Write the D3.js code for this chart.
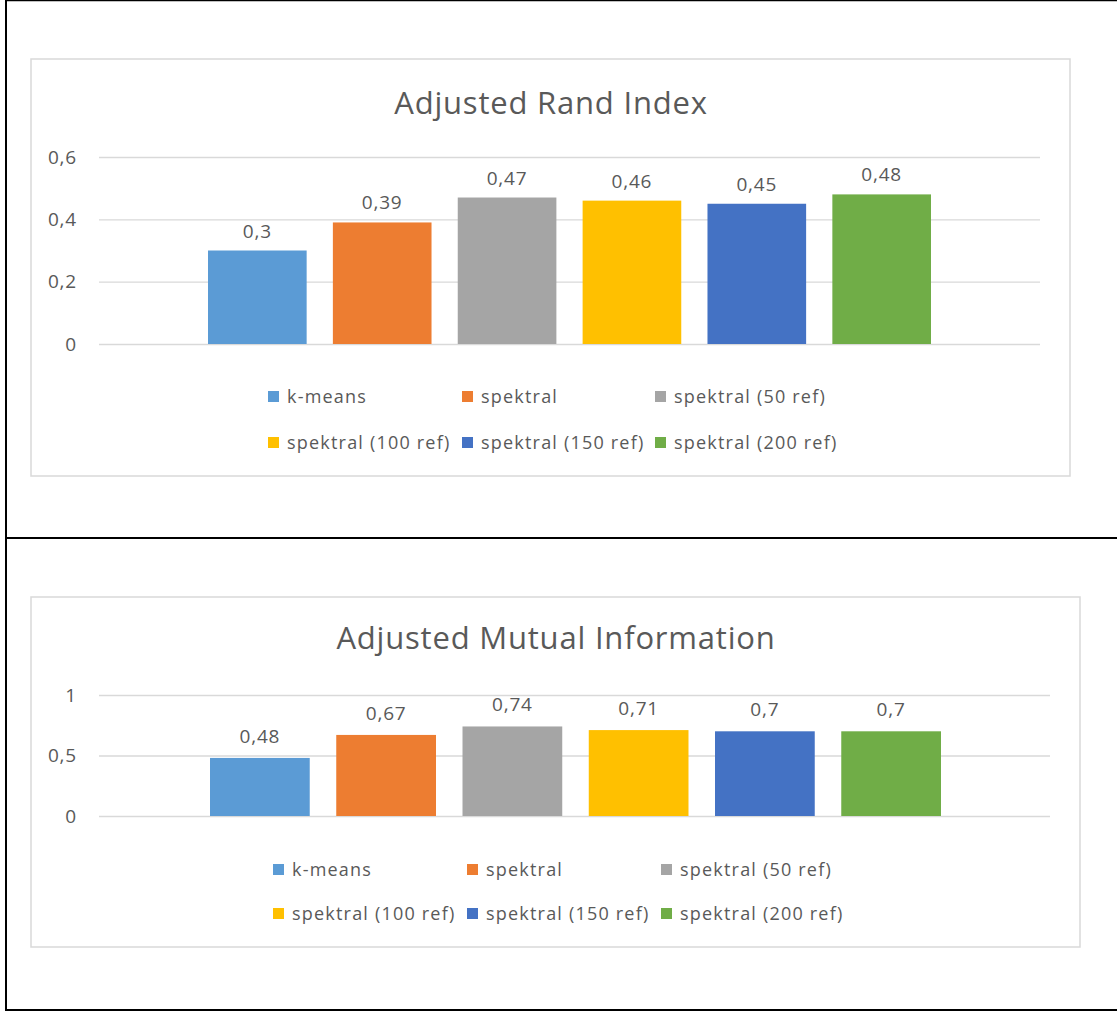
<!DOCTYPE html>
<html>
<head>
<meta charset="utf-8">
<script src="https://cdn.jsdelivr.net/npm/d3@7"></script>
<style>
  body { margin: 0; background: white; }
  svg text { font-family: "Open Sans", Lato, sans-serif; fill: #595959; }
</style>
</head>
<body>
<svg id="svg" width="1117" height="1012"></svg>
<script>
// series (one bar each, single category)
var series = ["k-means", "spektral", "spektral (50 ref)", "spektral (100 ref)", "spektral (150 ref)", "spektral (200 ref)"];
var colors = ["#5B9BD5", "#ED7D31", "#A5A5A5", "#FFC000", "#4472C4", "#70AD47"];

var randValues = [0.3, 0.39, 0.47, 0.46, 0.45, 0.48];
var randTicks = [0, 0.2, 0.4, 0.6];

var mutualValues = [0.48, 0.67, 0.74, 0.71, 0.7, 0.7];
var mutualTicks = [0, 0.5, 1];

var text_color = "#595959";
var grid_color = "#d9d9d9";

// comma as decimal mark
var locale = d3.formatLocale({decimal: ",", thousands: ".", grouping: [3], currency: ["", ""]});
var fmt = locale.format(".2~f");

const svg = d3.select('#svg');

// outer black lines of the page
svg.append("line").attr("x1", 6).attr("x2", 6).attr("y1", 0).attr("y2", 1011).style("stroke", "black").style("stroke-width", 2);
svg.append("line").attr("x1", 5).attr("x2", 1117).attr("y1", 0.5).attr("y2", 0.5).style("stroke", "black").style("stroke-width", 1.5);
svg.append("line").attr("x1", 5).attr("x2", 1117).attr("y1", 538).attr("y2", 538).style("stroke", "black").style("stroke-width", 2);
svg.append("line").attr("x1", 5).attr("x2", 1117).attr("y1", 1010).attr("y2", 1010).style("stroke", "black").style("stroke-width", 2);

function drawChart(opt) {
  var g = svg.append("g");

  // chart frame
  g.append("rect")
    .attr("x", opt.frame[0]).attr("y", opt.frame[1])
    .attr("width", opt.frame[2]).attr("height", opt.frame[3])
    .style("fill", "white").style("stroke", grid_color).style("stroke-width", 1.5);

  g.append("text")
    .attr("x", opt.titleX).attr("y", opt.titleY)
    .attr("text-anchor", "middle")
    .style("font-size", "31px")
    .style("letter-spacing", "0.8px")
    .text(opt.title);

  var y = d3.scaleLinear().domain(opt.domain).range(opt.yRange);
  var x = d3.scaleBand().domain(series).range(opt.barRange).paddingInner(0.21).paddingOuter(0);

  // gridlines + tick labels via axis
  var axis = d3.axisLeft(y).tickValues(opt.ticks).tickSize(-(opt.plotX[1] - opt.plotX[0])).tickPadding(22).tickFormat(fmt);
  var ax = g.append("g").attr("transform", "translate(" + opt.plotX[0] + ",0)").call(axis);
  ax.select(".domain").remove();
  ax.selectAll(".tick line").style("stroke", grid_color).style("stroke-width", 1.3);
  ax.selectAll(".tick text").style("font-size", "19px").style("letter-spacing", "0.8px")
    .style("fill", text_color).style("font-family", null);

  // bars
  g.selectAll(".bar")
    .data(opt.values)
    .enter().append("rect")
    .attr("x", (d, i) => x(series[i]))
    .attr("width", x.bandwidth())
    .attr("y", d => y(d))
    .attr("height", d => y(0) - y(d))
    .style("fill", (d, i) => colors[i]);

  g.selectAll(".vlabel")
    .data(opt.values)
    .enter().append("text")
    .attr("x", (d, i) => x(series[i]) + x.bandwidth() / 2)
    .attr("y", d => y(d) - opt.labelGap)
    .attr("text-anchor", "middle")
    .style("font-size", "19px")
    .style("letter-spacing", "0.8px")
    .text(d => fmt(d));

  // legend, 3 per row
  var leg = g.selectAll(".leg")
    .data(series)
    .enter().append("g")
    .attr("transform", (d, i) => "translate(" + opt.legCols[i % 3] + "," + opt.legRows[Math.floor(i / 3)] + ")");
  leg.append("rect")
    .attr("x", 0).attr("y", -6).attr("width", 11).attr("height", 11)
    .style("fill", (d, i) => colors[i]);
  leg.append("text")
    .attr("x", 19).attr("y", 6)
    .style("font-size", "18px")
    .style("letter-spacing", "1.2px")
    .text(d => d);
}

drawChart({
  title: "Adjusted Rand Index",
  values: randValues,
  ticks: randTicks,
  domain: [0, 0.6],
  frame: [31, 59, 1039, 417],
  titleX: 551, titleY: 114,
  plotX: [99, 1040],
  yRange: [344, 157],
  barRange: [208, 931],
  labelGap: 13,
  legCols: [268, 462, 655],
  legRows: [397, 443]
});

drawChart({
  title: "Adjusted Mutual Information",
  values: mutualValues,
  ticks: mutualTicks,
  domain: [0, 1],
  frame: [31, 597, 1049, 350],
  titleX: 556, titleY: 649,
  plotX: [99, 1050],
  yRange: [816, 695],
  barRange: [210, 941],
  labelGap: 15,
  legCols: [273, 467, 661],
  legRows: [870, 914]
});
</script>
</body>
</html>
